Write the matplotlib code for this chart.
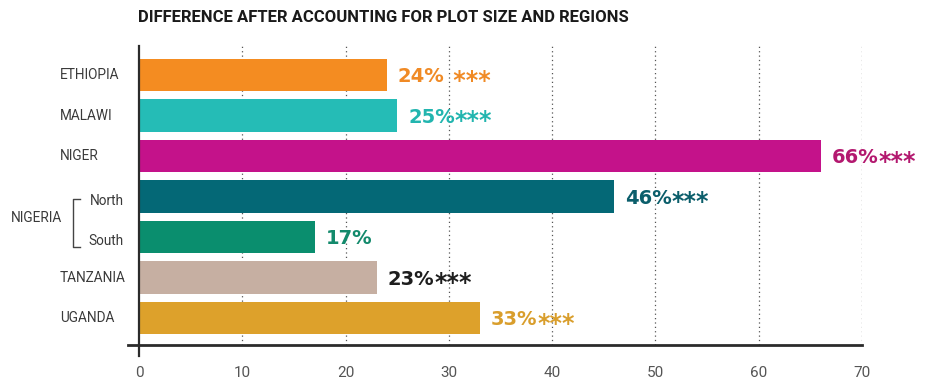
import matplotlib
matplotlib.use("Agg")
import matplotlib.pyplot as plt
from matplotlib.lines import Line2D
from matplotlib.transforms import blended_transform_factory

# ---- data ----
categories = ["ETHIOPIA", "MALAWI", "NIGER", "North", "South", "TANZANIA", "UGANDA"]
values = [24, 25, 66, 46, 17, 23, 33]
stars = [" ***", "***", "***", "***", "", "***", "***"]
group_label = "NIGERIA"
group_members = ["North", "South"]
xticks = [0, 10, 20, 30, 40, 50, 60, 70]
title = "DIFFERENCE AFTER ACCOUNTING FOR PLOT SIZE AND REGIONS"

bar_colors = ["#F48C21", "#25BCB6", "#C4128A", "#046876", "#0A8E6E", "#C6AFA2", "#DDA12B"]
label_colors = ["#F08A25", "#22B5AF", "#B3186F", "#0B5E6B", "#138A6C", "#1E1E1E", "#D99E2C"]

W, H = 946, 388
fig = plt.figure(figsize=(W / 100, H / 100), dpi=100)
ax = fig.add_axes([139 / W, 1 - 345 / H, 723 / W, (345 - 46) / H])

ypos = list(range(len(categories)))
ax.barh(ypos, values, height=0.8, color=bar_colors, zorder=3)
ax.set_xlim(0, 70)
ax.set_ylim(len(categories) - 1 + 0.667, -0.72)

# dotted grid
for xv in xticks[1:]:
    ax.axvline(xv, color="#555555", lw=0.9, ls=(0, (1, 2.5)), zorder=1)

for s in ax.spines.values():
    s.set_visible(False)
ax.set_yticks([])
ax.set_xticks(xticks)
ax.set_xticklabels([str(x) for x in xticks],
                   fontfamily=["Liberation Sans Narrow", "Roboto"],
                   fontsize=11, color="#555555")
ax.tick_params(axis="x", length=0, pad=15)

# axis lines
trans_ax = ax.transAxes
ax.add_line(Line2D([-(139 - 128) / 723, 1.0], [0, 0], transform=trans_ax,
                   color="#2b2b2b", lw=2, clip_on=False, zorder=5))
ax.add_line(Line2D([0, 0], [-(356 - 345) / 299, 1.0], transform=trans_ax,
                   color="#2b2b2b", lw=1.6, clip_on=False, zorder=5))

# value labels
for i, (v, st, c) in enumerate(zip(values, stars, label_colors)):
    t = ax.annotate(f"{v}%", xy=(v, i), xytext=(11, -7), textcoords="offset pixels",
                    ha="left", va="baseline", fontsize=14, fontweight="bold",
                    fontfamily="DejaVu Sans", color=c, zorder=6)
    if st:
        ax.annotate(st, xy=(1, 0.5), xycoords=t, xytext=(0, -4),
                    textcoords="offset pixels", ha="left", va="center",
                    fontsize=17, fontweight="bold", fontfamily="DejaVu Sans",
                    color=c, zorder=6)

# category labels
bt = blended_transform_factory(ax.transAxes, ax.transData)
lab_kw = dict(fontsize=9.8, fontfamily="Roboto", color="#3a3a3a", va="center")
for i, name in enumerate(categories):
    if name in group_members:
        ax.text(-(139 - 124) / 723, i + 0.1, name, transform=bt, ha="right", **lab_kw)
    else:
        ax.text(-(139 - 60) / 723, i, name, transform=bt, ha="left", **lab_kw)

gi = [categories.index(m) for m in group_members]
ymid = (gi[0] + gi[1]) / 2 + 0.03
ax.text(-(139 - 11) / 723, ymid, group_label, transform=bt, ha="left", **lab_kw)
bx0 = -(139 - 73) / 723
bx1 = -(139 - 80) / 723
y_top = gi[0] + 0.07
y_bot = gi[1] + 0.25
ax.add_line(Line2D([bx1, bx0, bx0, bx1], [y_top, y_top, y_bot, y_bot],
                   transform=bt, color="#444444", lw=1.0, clip_on=False))

fig.text(138 / W, 1 - 18 / H, title, ha="left", va="center",
         fontsize=12, fontweight="bold", fontfamily="Roboto", color="#1a1a1a")

fig.savefig("out.png", dpi=100, facecolor="white")
